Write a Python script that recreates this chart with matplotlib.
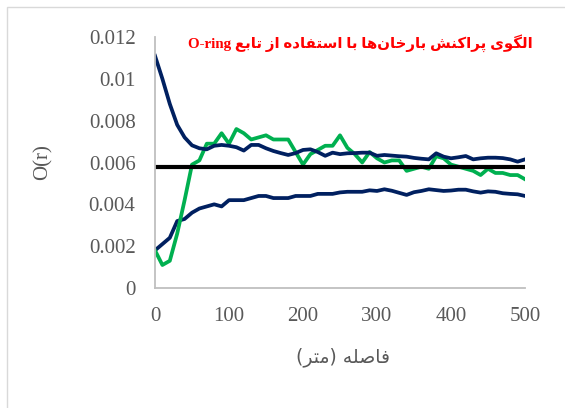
import matplotlib
matplotlib.use("Agg")
import matplotlib.pyplot as plt
from matplotlib.patches import Rectangle

# -----------------------------
# datos
# -----------------------------
distancia = list(range(0, 510, 10))

envolvente_sup = [
    0.0111, 0.0100, 0.0088, 0.0078, 0.0072, 0.00682, 0.00668, 0.00663, 0.00680, 0.00684,
    0.00680, 0.00673, 0.00657, 0.00684, 0.00684, 0.00668, 0.00655, 0.00645, 0.00636, 0.00645,
    0.00660, 0.00663, 0.00650, 0.00632, 0.00647, 0.00640, 0.00644, 0.00645, 0.00647, 0.00647,
    0.00632, 0.00636, 0.00633, 0.00630, 0.00628, 0.00622, 0.00618, 0.00615, 0.00644, 0.00628,
    0.00620, 0.00625, 0.00631, 0.00615, 0.00620, 0.00623, 0.00623, 0.00621, 0.00615, 0.00604,
    0.00615,
]

o_ring = [
    0.0018, 0.0011, 0.0013, 0.0026, 0.0042, 0.0059, 0.0061, 0.0069, 0.0069, 0.0074,
    0.0069, 0.0076, 0.0074, 0.0071, 0.0072, 0.0073, 0.0071, 0.0071, 0.0071, 0.0065,
    0.0059, 0.0064, 0.0066, 0.0068, 0.0068, 0.0073, 0.0067, 0.0064, 0.0060, 0.0065,
    0.0062, 0.0060, 0.0061, 0.0061, 0.0056, 0.0057, 0.0058, 0.0057, 0.0063, 0.0062,
    0.0059, 0.0058, 0.0057, 0.0056, 0.0054, 0.0057, 0.0055, 0.0055, 0.0054, 0.0054,
    0.0052,
]

envolvente_inf = [
    0.0018, 0.0021, 0.0024, 0.0032, 0.0033, 0.0036, 0.0038, 0.0039, 0.0040, 0.0039,
    0.0042, 0.0042, 0.0042, 0.0043, 0.0044, 0.0044, 0.0043, 0.0043, 0.0043, 0.0044,
    0.0044, 0.0044, 0.0045, 0.0045, 0.0045, 0.00457, 0.0046, 0.0046, 0.0046, 0.00467,
    0.00464, 0.00472, 0.00465, 0.00455, 0.00445, 0.00458, 0.00464, 0.00472, 0.00468, 0.00464,
    0.00466, 0.00470, 0.00470, 0.00462, 0.00456, 0.00462, 0.00460, 0.00453, 0.00450, 0.00448,
    0.00440,
]

media_x = [0, 500]
media_y = [0.0058, 0.0058]

y_ticks = [0, 0.002, 0.004, 0.006, 0.008, 0.01, 0.012]
y_tick_labels = ["0", "0.002", "0.004", "0.006", "0.008", "0.01", "0.012"]
x_ticks = [0, 100, 200, 300, 400, 500]

titulo_fa = "الگوی پراکنش بارخان\u200cها با استفاده از تابع"
titulo_en = "O-ring"
eje_x_fa = "فاصله (متر)"
eje_y = "O(r)"

# -----------------------------
# formas de presentacion arabes (matplotlib no hace shaping)
# -----------------------------
FORMAS = {
    "ا": ("\uFE8D", "\uFE8E", None, None),
    "ب": ("\uFE8F", "\uFE90", "\uFE91", "\uFE92"),
    "پ": ("\uFB56", "\uFB57", "\uFB58", "\uFB59"),
    "ت": ("\uFE95", "\uFE96", "\uFE97", "\uFE98"),
    "خ": ("\uFEA5", "\uFEA6", "\uFEA7", "\uFEA8"),
    "د": ("\uFEA9", "\uFEAA", None, None),
    "ر": ("\uFEAD", "\uFEAE", None, None),
    "ز": ("\uFEAF", "\uFEB0", None, None),
    "س": ("\uFEB1", "\uFEB2", "\uFEB3", "\uFEB4"),
    "ش": ("\uFEB5", "\uFEB6", "\uFEB7", "\uFEB8"),
    "ص": ("\uFEB9", "\uFEBA", "\uFEBB", "\uFEBC"),
    "ع": ("\uFEC9", "\uFECA", "\uFECB", "\uFECC"),
    "ف": ("\uFED1", "\uFED2", "\uFED3", "\uFED4"),
    "ک": ("\uFB8E", "\uFB8F", "\uFB90", "\uFB91"),
    "گ": ("\uFB92", "\uFB93", "\uFB94", "\uFB95"),
    "ل": ("\uFEDD", "\uFEDE", "\uFEDF", "\uFEE0"),
    "م": ("\uFEE1", "\uFEE2", "\uFEE3", "\uFEE4"),
    "ن": ("\uFEE5", "\uFEE6", "\uFEE7", "\uFEE8"),
    "ه": ("\uFEE9", "\uFEEA", "\uFEEB", "\uFEEC"),
    "و": ("\uFEED", "\uFEEE", None, None),
    "ی": ("\uFBFC", "\uFBFD", "\uFBFE", "\uFBFF"),
}


def rtl(texto):
    salida = []
    for i, c in enumerate(texto):
        if c not in FORMAS:
            if c != "\u200c":
                salida.append(c)
            continue
        prev = texto[i - 1] if i > 0 else ""
        sig = texto[i + 1] if i + 1 < len(texto) else ""
        une_prev = prev in FORMAS and FORMAS[prev][2] is not None
        une_sig = sig in FORMAS and FORMAS[c][2] is not None
        iso, fin, ini, med = FORMAS[c]
        if une_prev and une_sig:
            salida.append(med)
        elif une_prev:
            salida.append(fin)
        elif une_sig:
            salida.append(ini)
        else:
            salida.append(iso)
    visual = "".join(reversed(salida))
    return visual.translate(str.maketrans("()", ")("))


# -----------------------------
# grafico
# -----------------------------
gris = "#595959"
fig = plt.figure(figsize=(5.65, 4.08), dpi=100)
ax = fig.add_axes([155 / 565, 1 - 288 / 408, 370 / 565, 251 / 408])

ax.plot(distancia, envolvente_inf, color="#002060", lw=2.7, solid_joinstyle="round")
ax.plot(distancia, o_ring, color="#00B050", lw=2.7, solid_joinstyle="round")
ax.plot(distancia, envolvente_sup, color="#002060", lw=2.7, solid_joinstyle="round")
ax.plot(media_x, media_y, color="black", lw=3.0)

ax.set_xlim(0, 500)
ax.set_ylim(0, 0.012)
ax.set_yticks(y_ticks)
ax.set_yticklabels(y_tick_labels)
ax.set_xticks(x_ticks)

for lado in ["top", "right"]:
    ax.spines[lado].set_visible(False)
for lado in ["left", "bottom"]:
    ax.spines[lado].set_color("#BFBFBF")
    ax.spines[lado].set_linewidth(1.3)

ax.tick_params(length=0, labelsize=15, labelcolor=gris, pad=14)
for lbl in ax.get_xticklabels() + ax.get_yticklabels():
    lbl.set_family("Liberation Serif")

ax.set_ylabel(eje_y, fontsize=15, color=gris, family="Liberation Serif")
ax.yaxis.set_label_coords(-0.276, 0.5)

ax.text(0.508, -0.275, rtl(eje_x_fa), transform=ax.transAxes, ha="center", va="center",
        fontsize=13.5, color=gris, family="DejaVu Sans")

fig.text(360 / 565, 1 - 43 / 408, titulo_en + " " + rtl(titulo_fa), ha="center", va="center",
         fontsize=10.8, color="#FF0000", fontweight="bold",
         family=["Liberation Serif", "DejaVu Sans"])

# borde del area del grafico
fig.patches.append(Rectangle((7 / 565, -0.1), 1.2, 1.1 - 7 / 408, transform=fig.transFigure,
                             fill=False, edgecolor="#D9D9D9", lw=1.0))

fig.savefig("out.png", dpi=100)
